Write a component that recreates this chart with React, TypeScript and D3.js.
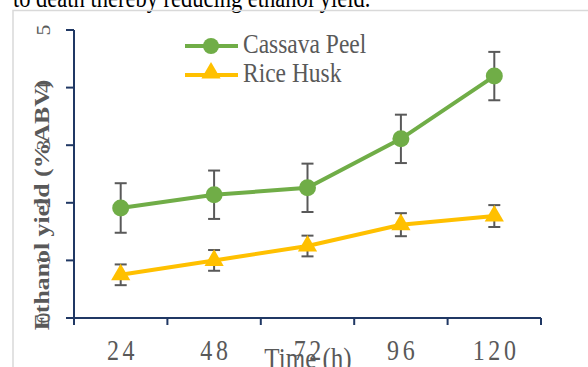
import React from 'react';
import * as d3 from 'd3';

const times = ['24', '48', '72', '96', '120'];
const cassava = [1.91, 2.14, 2.26, 3.11, 4.2];
const cassavaErr = [0.43, 0.42, 0.42, 0.42, 0.42];
const rice = [0.75, 1.0, 1.25, 1.62, 1.77];
const riceErr = [0.18, 0.18, 0.18, 0.2, 0.19];
const yTicks = [0, 1, 2, 3, 4, 5];

const W = 588;
const H = 367;
const S = 1.2; // the source picture is stretched vertically
const serif = '"Liberation Serif", "Times New Roman", serif';
const axisColor = '#203864';
const textColor = '#595959';
const green = '#70AD47';
const yellow = '#FFC000';

// text stretched vertically like the reference image
const T = ({ x, y, rot, children, ...rest }: any) => (
  <text
    transform={`translate(${x},${y}) scale(1,${S})${rot ? ' rotate(-90)' : ''}`}
    fontFamily={serif}
    fill={textColor}
    {...rest}
  >
    {children}
  </text>
);

const App = () => {
  const x = d3.scaleBand<string>().domain(times).range([74, 541]).padding(0);
  const y = d3.scaleLinear().domain([0, 5]).range([318, 30]);
  const cx = (t: string) => (x(t) as number) + x.bandwidth() / 2;

  const line = d3
    .line<number>()
    .x((_, i) => cx(times[i]))
    .y((d) => y(d));

  const tri = d3.symbol().type(d3.symbolTriangle).size(160)() as string;

  const errorBars = (vals: number[], errs: number[]) =>
    vals.map((v, i) => {
      const px = cx(times[i]);
      const y1 = y(v + errs[i]);
      const y2 = y(v - errs[i]);
      return (
        <g key={i} stroke={textColor} strokeWidth={2}>
          <line x1={px} x2={px} y1={y1} y2={y2} />
          <line x1={px - 6} x2={px + 6} y1={y1} y2={y1} />
          <line x1={px - 6} x2={px + 6} y1={y2} y2={y2} />
        </g>
      );
    });

  return (
    <svg
      width={W}
      height={H}
      style={{ position: 'fixed', left: 0, top: 0, background: '#fff' }}
    >
      <T x={13} y={7} fontSize={22.5} fill="#000">
        to death thereby reducing ethanol yield.
      </T>
      {/* chart frame */}
      <path d={`M13,${H} V10.5 H${W}`} fill="none" stroke="#d9d9d9" strokeWidth={1.5} />

      {/* y axis */}
      <line x1={74} x2={74} y1={y(5)} y2={y(0) + 6} stroke={axisColor} strokeWidth={2} />
      {yTicks.map((t) => (
        <line key={t} x1={66} x2={74} y1={y(t)} y2={y(t)} stroke={axisColor} strokeWidth={2} />
      ))}
      {yTicks.map((t) => (
        <T key={t} x={50} y={y(t)} rot textAnchor="middle" fontSize={18}>
          {t}
        </T>
      ))}
      <T x={49} y={205} rot textAnchor="middle" fontSize={21.5} fontWeight="bold">
        Ethanol yield (%ABV)
      </T>

      {/* x axis */}
      <line x1={66} x2={541} y1={318} y2={318} stroke={axisColor} strokeWidth={2} />
      {[...times.map((t) => x(t) as number), 541].map((px, i) => (
        <line key={i} x1={px} x2={px} y1={318} y2={325} stroke={axisColor} strokeWidth={2} />
      ))}
      {times.map((t) => (
        <T key={t} x={cx(t) + 1.8} y={360} textAnchor="middle" fontSize={24} letterSpacing={3.6}>
          {t}
        </T>
      ))}
      <T x={308} y={368} textAnchor="middle" fontSize={25}>
        Time (h)
      </T>

      {/* series */}
      <path d={line(rice) as string} fill="none" stroke={yellow} strokeWidth={4} />
      <path d={line(cassava) as string} fill="none" stroke={green} strokeWidth={4} />
      {errorBars(cassava, cassavaErr)}
      {errorBars(rice, riceErr)}
      {cassava.map((v, i) => (
        <circle key={i} cx={cx(times[i])} cy={y(v)} r={8.5} fill={green} />
      ))}
      {rice.map((v, i) => (
        <path key={i} d={tri} transform={`translate(${cx(times[i])},${y(v)})`} fill={yellow} />
      ))}

      {/* legend */}
      <line x1={185} x2={238} y1={46} y2={46} stroke={green} strokeWidth={4} />
      <circle cx={211} cy={46} r={8} fill={green} />
      <T x={243} y={53} fontSize={23.5}>
        Cassava Peel
      </T>
      <line x1={185} x2={238} y1={75} y2={75} stroke={yellow} strokeWidth={4} />
      <path d={tri} transform="translate(211,73)" fill={yellow} />
      <T x={243} y={82} fontSize={23.5}>
        Rice Husk
      </T>
    </svg>
  );
};

export default App;
